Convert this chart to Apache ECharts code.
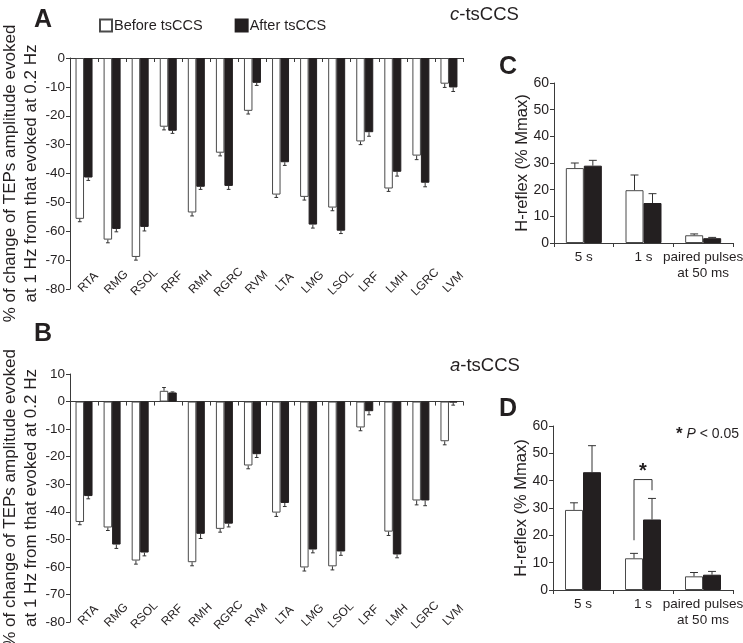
<!DOCTYPE html>
<html>
<head>
<meta charset="utf-8">
<script src="https://cdn.jsdelivr.net/npm/echarts@6/dist/echarts.min.js"></script>
<style>html,body{margin:0;padding:0;background:#fff}#c{width:743px;height:643px}</style>
</head>
<body>
<div id="c"></div>
<script>
// ---------- data ----------
const muscles = ['RTA','RMG','RSOL','RRF','RMH','RGRC','RVM','LTA','LMG','LSOL','LRF','LMH','LGRC','LVM'];
// Panel A (c-tsCCS)
const beforeA = [-55.7,-62.9,-68.9,-23.8,-53.5,-32.8,-18.3,-47.3,-48.1,-51.8,-28.9,-45.2,-33.8,-8.9];
const afterA  = [-41.4,-59.2,-58.5,-25.2,-44.6,-44.3,-8.6,-36.1,-57.7,-59.8,-25.7,-39.4,-43.2,-10.2];
const errBeforeA = [1.0,1.1,1.1,1.1,1.2,1.1,1.1,1.0,1.1,1.1,1.1,1.0,1.4,1.3];
const errAfterA  = [1.0,1.0,1.4,0.9,0.9,1.2,0.9,1.1,1.2,1.0,1.4,1.5,1.4,1.4];
// Panel B (a-tsCCS)
const beforeB = [-43.7,-45.7,-57.7,3.9,-58.3,-46.2,-23.2,-40.3,-60.2,-59.8,-9.4,-47.2,-35.9,-14.4];
const afterB  = [-34.3,-51.9,-54.8,3.3,-48.0,-44.3,-19.1,-36.8,-53.7,-54.4,-3.5,-55.5,-35.9,-0.3];
const errBeforeB = [1.0,1.1,1.3,1.2,1.3,1.2,1.2,1.4,1.3,1.3,1.2,1.4,1.6,1.3];
const errAfterB  = [1.0,1.4,1.2,0.2,1.7,1.2,1.2,1.3,1.2,1.4,1.3,1.2,1.9,1.0];
// Panels C and D (H-reflex)
const hCats = ['5 s','1 s','paired pulses\nat 50 ms'];
const beforeC = [28.1,19.8,2.9];
const afterC  = [29.0,15.0,1.8];
const errBeforeC = [1.9,5.7,0.5];
const errAfterC  = [2.0,3.5,0.3];
const beforeD = [29.3,11.6,5.0];
const afterD  = [43.1,25.8,5.6];
const errBeforeD = [2.6,1.8,1.4];
const errAfterD  = [9.7,7.7,1.2];
// significance bracket in D: [category, left leg bottom, top, right leg bottom, star level]
const sigD = [[1, 18.2, 40.4, 36.5, 43.5]];

// ---------- styles ----------
const FONT = 'Liberation Sans, Arial, sans-serif';
const INK = '#231f20';
const AX = '#3a3a3a';
const beforeStyle = {color:'#ffffff', borderColor:'#4a4a4a', borderWidth:1};
const afterStyle = {color:INK, borderColor:INK, borderWidth:1};

const chart = echarts.init(document.getElementById('c'), null, {renderer:'canvas'});

const grids = [
  {left:70, top:58, width:393, height:231, containLabel:false, outerBoundsMode:'none'},   // A
  {left:70, top:374, width:393, height:248, containLabel:false, outerBoundsMode:'none'},  // B
  {left:554, top:83, width:179, height:160, containLabel:false, outerBoundsMode:'none'},  // C
  {left:553, top:426, width:180, height:164, containLabel:false, outerBoundsMode:'none'}  // D
];

function yAx(gi, min, max, name, nameGap, nameSize, labelSize, lh) {
  return {
    type:'value', gridIndex:gi, min:min, max:max, interval:10,
    splitLine:{show:false},
    axisLine:{show:true, lineStyle:{color:AX, width:1}},
    axisTick:{show:true, length:4, lineStyle:{color:AX}},
    axisLabel:{color:INK, fontFamily:FONT, fontSize:labelSize, margin:5},
    name:name, nameLocation:'middle', nameGap:nameGap, nameMoveOverlap:false,
    nameTextStyle:{color:INK, fontFamily:FONT, fontSize:nameSize, lineHeight:lh}
  };
}
function xLineAx(gi, cats) {
  return {
    type:'category', gridIndex:gi, data:cats, position:'bottom',
    axisLine:{show:true, onZero:true, lineStyle:{color:AX, width:1}},
    axisTick:{show:true, length:4, interval:0, lineStyle:{color:AX}},
    axisLabel:{show:false}
  };
}
function xLabelAx(gi, cats) {
  return {
    type:'category', gridIndex:gi, data:cats, position:'bottom', offset:-14,
    axisLine:{show:false, onZero:false}, axisTick:{show:false},
    axisLabel:{show:true, interval:0, rotate:45, align:'center', verticalAlign:'top', margin:3,
      color:INK, fontFamily:FONT, fontSize:12}
  };
}
function xHAx(gi, cats) {
  return {
    type:'category', gridIndex:gi, data:cats, position:'bottom',
    axisLine:{show:true, onZero:false, lineStyle:{color:AX, width:1}},
    axisTick:{show:true, length:4, interval:0, lineStyle:{color:AX}},
    axisLabel:{show:true, interval:0, color:INK, fontFamily:FONT, fontSize:13.5, lineHeight:16, margin:6}
  };
}

const xAxes = [
  xLineAx(0, muscles), xLineAx(1, muscles),
  xHAx(2, hCats), xHAx(3, hCats),
  xLabelAx(0, muscles), xLabelAx(1, muscles)
];
const yName = '% of change of TEPs amplitude evoked\nat 1 Hz from that evoked at 0.2 Hz';
const yAxes = [
  yAx(0, -80, 0, yName, 28, 17, 13.5, 21),
  yAx(1, -80, 10, yName, 28, 17, 13.5, 21),
  yAx(2, 0, 60, 'H-reflex (% Mmax)', 22, 16.5, 14, 20),
  yAx(3, 0, 60, 'H-reflex (% Mmax)', 22, 16.5, 14, 20)
];

function bars(name, axis, data, style, bw) {
  return {type:'bar', name:name, xAxisIndex:axis, yAxisIndex:axis, data:data,
    barWidth:bw, barGap:'0%', itemStyle:style, silent:true, animation:false, z:2};
}
function errSeries(axis, vals, errs, side, bw) {
  const data = vals.map((v,i)=>[i, v, v<0 ? v-errs[i] : v+errs[i]]);
  return {
    type:'custom', xAxisIndex:axis, yAxisIndex:axis, data:data, silent:true, animation:false, z:3,
    renderItem:function(params, api){
      const i = api.value(0);
      const p0 = api.coord([i, api.value(1)]);
      const p1 = api.coord([i, api.value(2)]);
      const x = p0[0] + side*bw/2;
      const cap = bw*0.22;
      return {type:'group', children:[
        {type:'line', shape:{x1:x, y1:p0[1], x2:x, y2:p1[1]}, style:{stroke:'#333', lineWidth:1}},
        {type:'line', shape:{x1:x-cap, y1:p1[1], x2:x+cap, y2:p1[1]}, style:{stroke:'#333', lineWidth:1}}
      ]};
    }
  };
}
const series = [
  bars('Before tsCCS', 0, beforeA, beforeStyle, 8.5),
  bars('After tsCCS', 0, afterA, afterStyle, 8.5),
  errSeries(0, beforeA, errBeforeA, -1, 8.5),
  errSeries(0, afterA, errAfterA, 1, 8.5),
  bars('Before tsCCS', 1, beforeB, beforeStyle, 8.5),
  bars('After tsCCS', 1, afterB, afterStyle, 8.5),
  errSeries(1, beforeB, errBeforeB, -1, 8.5),
  errSeries(1, afterB, errAfterB, 1, 8.5),
  bars('Before tsCCS', 2, beforeC, beforeStyle, 18),
  bars('After tsCCS', 2, afterC, afterStyle, 18),
  errSeries(2, beforeC, errBeforeC, -1, 18),
  errSeries(2, afterC, errAfterC, 1, 18),
  bars('Before tsCCS', 3, beforeD, beforeStyle, 18),
  bars('After tsCCS', 3, afterD, afterStyle, 18),
  errSeries(3, beforeD, errBeforeD, -1, 18),
  errSeries(3, afterD, errAfterD, 1, 18),
  {
    type:'custom', xAxisIndex:3, yAxisIndex:3, data:sigD, silent:true, animation:false, z:4,
    renderItem:function(params, api){
      const i = api.value(0);
      const bw = 18;
      const a = api.coord([i, api.value(1)]);
      const t = api.coord([i, api.value(2)]);
      const b = api.coord([i, api.value(3)]);
      const s = api.coord([i, api.value(4)]);
      const xl = a[0]-bw/2, xr = a[0]+bw/2;
      return {type:'group', children:[
        {type:'polyline', shape:{points:[[xl,a[1]],[xl,t[1]],[xr,t[1]],[xr,b[1]]]}, style:{stroke:'#333', lineWidth:1, fill:null}},
        {type:'text', style:{x:a[0], y:s[1], text:'*', fill:INK, font:'bold 20px '+FONT, textAlign:'center', textVerticalAlign:'middle'}}
      ]};
    }
  }
];

const titles = [
  {text:'A', left:29, top:3, textStyle:{fontFamily:FONT, color:INK, fontSize:25, fontWeight:'bold'}},
  {text:'B', left:29, top:317, textStyle:{fontFamily:FONT, color:INK, fontSize:25, fontWeight:'bold'}},
  {text:'C', left:494, top:50, textStyle:{fontFamily:FONT, color:INK, fontSize:25, fontWeight:'bold'}},
  {text:'D', left:494, top:392, textStyle:{fontFamily:FONT, color:INK, fontSize:25, fontWeight:'bold'}},
  {text:'{i|c}-tsCCS', left:445, top:0, textStyle:{fontFamily:FONT, color:INK, fontSize:18.5, fontWeight:'normal',
     rich:{i:{fontFamily:FONT, fontStyle:'italic', fontSize:18.5, color:INK}}}},
  {text:'{i|a}-tsCCS', left:445, top:351, textStyle:{fontFamily:FONT, color:INK, fontSize:18.5, fontWeight:'normal',
     rich:{i:{fontFamily:FONT, fontStyle:'italic', fontSize:18.5, color:INK}}}},
  {text:'{s|*} {i|P} < 0.05', left:671, top:421, textStyle:{fontFamily:FONT, color:INK, fontSize:14, fontWeight:'normal',
     rich:{i:{fontFamily:FONT, fontStyle:'italic', fontSize:14, color:INK}, s:{fontFamily:FONT, fontWeight:'bold', fontSize:17, color:INK}}}}
];

chart.setOption({
  backgroundColor:'#ffffff',
  animation:false,
  title:titles,
  legend:{
    data:['Before tsCCS','After tsCCS'], left:94, top:13, icon:'rect', itemWidth:12, itemHeight:12,
    itemGap:32, selectedMode:false,
    textStyle:{fontFamily:FONT, fontSize:14.5, color:INK, padding:[0,0,0,-3]}
  },
  grid:grids,
  xAxis:xAxes,
  yAxis:yAxes,
  series:series
});
</script>
</body>
</html>
